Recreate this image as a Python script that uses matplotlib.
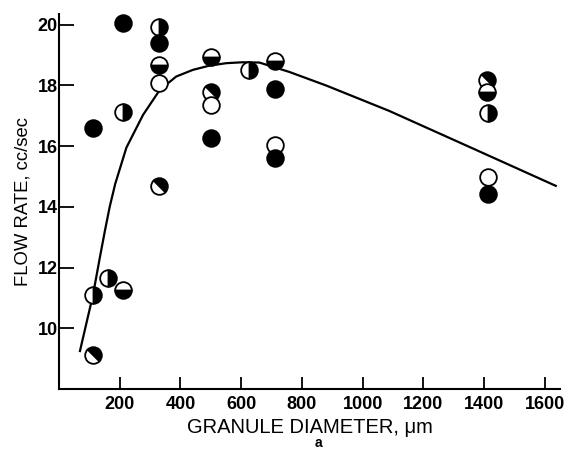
import numpy as np
import matplotlib
matplotlib.use('Agg')
import matplotlib.pyplot as plt
from matplotlib.markers import MarkerStyle
from matplotlib.transforms import Affine2D

plt.rcParams['font.family'] = ['Liberation Sans', 'DejaVu Sans']

# ── measured points: granule diameter (um), flow rate (cc/sec), marker fill ──
diam = [111, 111, 111, 161, 210, 210, 210,
        328, 328, 328, 328, 328,
        502, 502, 502, 502,
        627,
        712, 712, 712, 712,
        1409, 1409, 1412, 1412, 1412]
flow = [16.6, 11.08, 9.11, 11.64, 11.25, 20.05, 17.13,
        19.92, 19.39, 18.67, 18.08, 14.70,
        18.93, 17.78, 17.35, 16.27,
        18.50,
        18.80, 17.88, 16.04, 15.61,
        18.18, 17.78, 17.09, 14.99, 14.43]
fill = ['full', 'right', 'diag', 'right', 'bottom', 'full', 'right',
        'right', 'full', 'bottom', 'none', 'diag',
        'bottom', 'diag', 'none', 'full',
        'right',
        'bottom', 'full', 'none', 'full',
        'diag', 'bottom', 'right', 'none', 'full']

# ── fitted curve ────────────────────────────────────────────────────────────
curve_x = [69, 112, 134, 151, 167, 185, 222, 277, 332, 386, 441, 496,
           551, 605, 660, 759, 881, 1087, 1372, 1636]
curve_y = [9.25, 11.1, 12.3, 13.2, 14.0, 14.75, 15.95, 17.03, 17.85,
           18.29, 18.51, 18.65, 18.73, 18.76, 18.75, 18.44, 17.99, 17.16,
           15.88, 14.69]

xticks = [200, 400, 600, 800, 1000, 1200, 1400, 1600]
yticks = [10, 12, 14, 16, 18, 20]

fig = plt.figure(figsize=(5.70, 4.51), dpi=100)
ax = fig.add_axes([0.1035, 0.1375, 0.8790, 0.8315])

ax.plot(curve_x, curve_y, color='black', lw=1.6, zorder=2)


def marker_for(kind):
    if kind == 'diag':
        return MarkerStyle('o', fillstyle='top',
                           transform=Affine2D().rotate_deg(-45))
    if kind in ('full', 'none'):
        return MarkerStyle('o', fillstyle='full')
    return MarkerStyle('o', fillstyle=kind)


for x, y, k in zip(diam, flow, fill):
    face = 'white' if k == 'none' else 'black'
    ax.plot([x], [y], linestyle='none', marker=marker_for(k), ms=12,
            mfc=face, mfcalt='white', mec='black', mew=1.3, zorder=3)

ax.set_xlim(0, 1650)
ax.set_ylim(8.0, 20.35)
ax.set_xticks(xticks)
ax.set_yticks(yticks)
ax.set_xticklabels([str(v) for v in xticks], fontweight='bold', fontsize=13)
ax.set_yticklabels([str(v) for v in yticks], fontweight='bold', fontsize=13)

for s in ('top', 'right'):
    ax.spines[s].set_visible(False)
for s in ('left', 'bottom'):
    ax.spines[s].set_linewidth(1.5)

ax.tick_params(axis='x', direction='in', length=9, width=1.3, pad=5)
ax.tick_params(axis='y', direction='in', length=11, width=1.3, pad=1)

ax.set_xlabel('GRANULE DIAMETER, μm', fontsize=14.5, labelpad=4)
ax.set_ylabel('FLOW RATE, cc/sec', fontsize=13.3, labelpad=4)

fig.text(318 / 570, 1 - 443 / 451, 'a', fontsize=10, fontweight='bold',
         ha='center', va='center')

fig.savefig('out.png', dpi=100)
